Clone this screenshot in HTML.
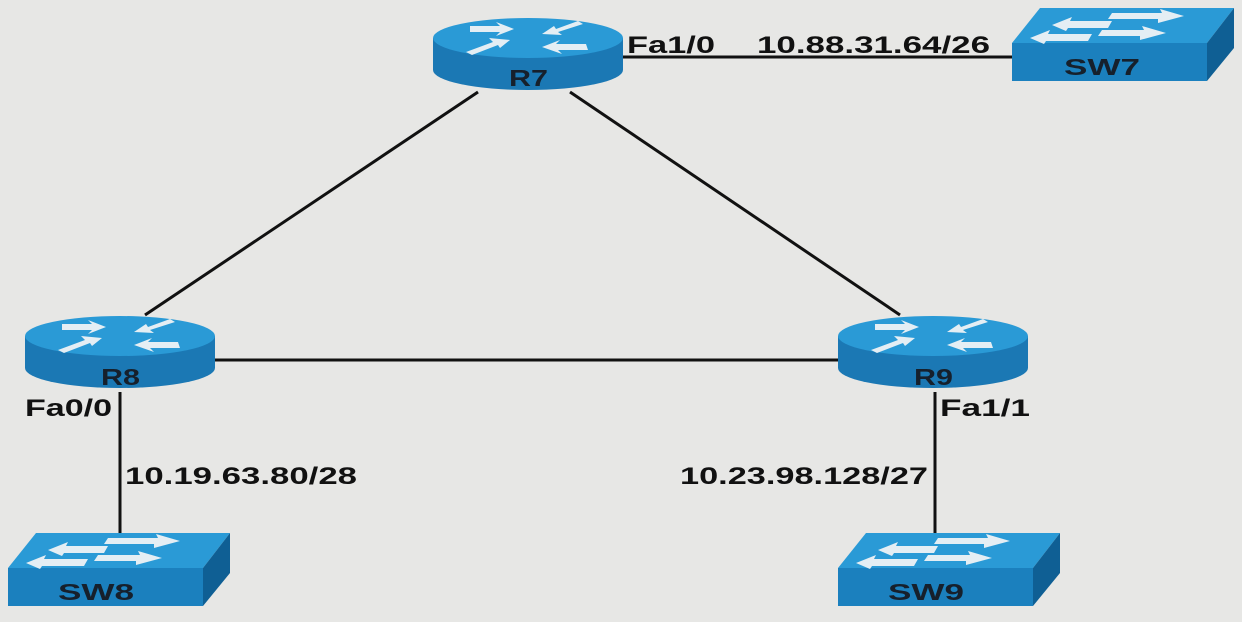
<!DOCTYPE html>
<html><head><meta charset="utf-8"><style>
html,body{margin:0;padding:0;background:#e7e7e5;}
svg{display:block}
text{font-family:"Liberation Sans",Arial,sans-serif;font-weight:bold;}
</style></head><body>
<svg width="1242" height="622" viewBox="0 0 1242 622" xmlns="http://www.w3.org/2000/svg">
<defs>
<g id="router">
  <path d="M-95 0 L-95 32 A95 20 0 0 0 95 32 L95 0 Z" fill="#1b78b4"/>
  <ellipse cx="0" cy="0" rx="95" ry="20" fill="#2a9ad6"/>
  <g fill="#e4eef4">
    <polygon points="-58,-12 -28,-12 -32,-16 -14,-9 -32,-2 -28,-6 -58,-6"/>
    <polygon points="-62,14 -35,4 -39,0 -18,2 -28,10 -30,7 -56,17"/>
    <polygon points="55,-14 30,-6 34,-3 14,-4 26,-12 28,-9 50,-17"/>
    <polygon points="60,12 30,12 34,16 14,9 32,2 28,6 58,6"/>
  </g>
</g>
<g id="switch">
  <polygon points="0,40 28,5 222,5 195,40" fill="#2a9ad6"/>
  <polygon points="195,40 222,5 222,45 195,78" fill="#0f5f94"/>
  <rect x="0" y="40" width="195" height="38" fill="#1b80be"/>
  <g fill="#e4eef4">
    <polygon points="40,22 60,14 58,18 100,18 96,25 56,25 54,28"/>
    <polygon points="100,10 150,10 148,6 172,13 146,20 146,16 96,16"/>
    <polygon points="18,35 38,27 36,31 80,31 76,38 34,38 32,41"/>
    <polygon points="90,27 132,27 130,23 154,30 128,37 128,33 86,33"/>
  </g>
</g>
</defs>
<g stroke="#111" stroke-width="3" fill="none">
  <line x1="478" y1="92" x2="145" y2="315"/>
  <line x1="570" y1="92" x2="900" y2="315"/>
  <line x1="215" y1="360" x2="840" y2="360"/>
  <line x1="622" y1="57" x2="1012" y2="57"/>
  <line x1="120" y1="392" x2="120" y2="535"/>
  <line x1="935" y1="392" x2="935" y2="535"/>
</g>
<use href="#router" x="528" y="38"/>
<use href="#router" x="120" y="336"/>
<use href="#router" x="933" y="336"/>
<use href="#switch" x="1012" y="3"/>
<use href="#switch" x="8" y="528"/>
<use href="#switch" x="838" y="528"/>
<g fill="#16202c" font-size="23">
  <text x="509" y="86" textLength="39" lengthAdjust="spacingAndGlyphs">R7</text>
  <text x="101" y="385" textLength="39" lengthAdjust="spacingAndGlyphs">R8</text>
  <text x="914" y="385" textLength="39" lengthAdjust="spacingAndGlyphs">R9</text>
  <text x="1064" y="75" textLength="76" lengthAdjust="spacingAndGlyphs">SW7</text>
  <text x="58" y="600" textLength="76" lengthAdjust="spacingAndGlyphs">SW8</text>
  <text x="888" y="600" textLength="76" lengthAdjust="spacingAndGlyphs">SW9</text>
</g>
<g fill="#111" font-size="24">
  <text x="627" y="53" textLength="88" lengthAdjust="spacingAndGlyphs">Fa1/0</text>
  <text x="757" y="53" textLength="233" lengthAdjust="spacingAndGlyphs">10.88.31.64/26</text>
  <text x="25" y="416" textLength="87" lengthAdjust="spacingAndGlyphs">Fa0/0</text>
  <text x="125" y="484" textLength="232" lengthAdjust="spacingAndGlyphs">10.19.63.80/28</text>
  <text x="680" y="484" textLength="248" lengthAdjust="spacingAndGlyphs">10.23.98.128/27</text>
  <text x="940" y="416" textLength="90" lengthAdjust="spacingAndGlyphs">Fa1/1</text>
</g>
</svg>
</body></html>
